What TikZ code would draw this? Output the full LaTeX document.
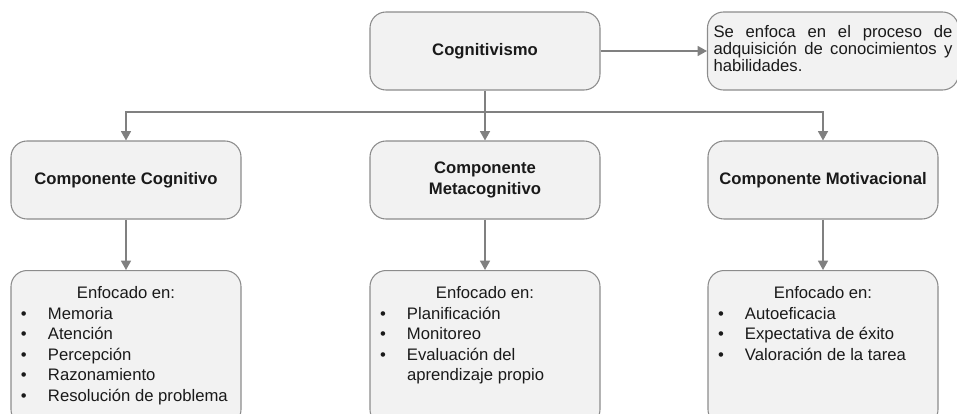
\documentclass[tikz,border=0pt]{standalone}
\usepackage{fontspec}
\setmainfont{Liberation Sans}
\usepackage{tikz}
\usetikzlibrary{arrows.meta, positioning, calc}
\definecolor{boxfill}{HTML}{F2F2F2}
\definecolor{boxline}{HTML}{8C8C8C}
\definecolor{arrowgray}{HTML}{808080}
\definecolor{txtgray}{HTML}{1A1A1A}
\tikzset{
         mybox/.style={draw=boxline, fill=boxfill, rounded corners=12pt, line width=.8pt, minimum width=172.5pt, minimum height=58.5pt, text=txtgray, align=center, font=\fontsize{12.5}{15.4}\selectfont\bfseries},
         mydesc/.style={mybox, minimum width=187.5pt, inner xsep=4.5pt, text depth=4.5pt, align=left, font=\fontsize{12.5}{12.75}\selectfont},
         mylist/.style={draw=boxline, fill=boxfill, rounded corners=12pt, line width=.8pt, inner sep=0pt, text=txtgray, anchor=north, font=\fontsize{12.5}{15.4}\selectfont},
         myarrow/.style={->, draw=arrowgray, line width=1.1pt}
      }
\newcommand{\myitem}[1]{\par\noindent\hangindent=27.75pt\hangafter=1\hspace*{7.5pt}\makebox[20.25pt][l]{\textbullet}#1}
\newcommand{\mylistbox}[1]{\parbox[c][116.25pt][t]{172.5pt}{\centering\rule{0pt}{21pt}Enfocado en:\par\raggedright #1\par}}
\newcommand{\myline}[1]{\makebox[179.25pt][s]{#1}}

\begin{document}
\begin{tikzpicture}[>={Triangle[width=7.5pt,length=7pt]}, x=0.75pt, y=-0.75pt]
  \useasboundingbox (0,0) rectangle (957,414);
  \clip (0,0) rectangle (957,414);

  \node[mybox] (cog) at (485,51) {Cognitivismo};
  \node[mydesc] (desc) at (833,51) {\myline{Se enfoca en el proceso de}\\\myline{adquisición de conocimientos y}\\habilidades.};

  \node[mybox] (ccog) at (126,180) {Componente Cognitivo};
  \node[mybox] (cmeta) at (485,180) {Componente\\Metacognitivo};
  \node[mybox] (cmot) at (823,180) {Componente Motivacional};

  \node[mylist] (lcog) at (126,270) {\mylistbox{\myitem{Memoria}\myitem{Atención}\myitem{Percepción}\myitem{Razonamiento}\myitem{Resolución de problema}}};
  \node[mylist] (lmeta) at (485,270) {\mylistbox{\myitem{Planificación}\myitem{Monitoreo}\myitem{Evaluación del\newline aprendizaje propio}}};
  \node[mylist] (lmot) at (823,270) {\mylistbox{\myitem{Autoeficacia}\myitem{Expectativa de éxito}\myitem{Valoración de la tarea}}};

  % connectors
  \coordinate (bus) at (485,112);
  \draw[myarrow] (cog) -- (desc);
  \draw[myarrow] (cog) -- (cmeta);
  \draw[myarrow] (bus) -| (ccog);
  \draw[myarrow] (bus) -| (cmot);
  \foreach \a/\b in {ccog/lcog, cmeta/lmeta, cmot/lmot}
    \draw[myarrow] (\a) -- (\b);
\end{tikzpicture}
\end{document}
